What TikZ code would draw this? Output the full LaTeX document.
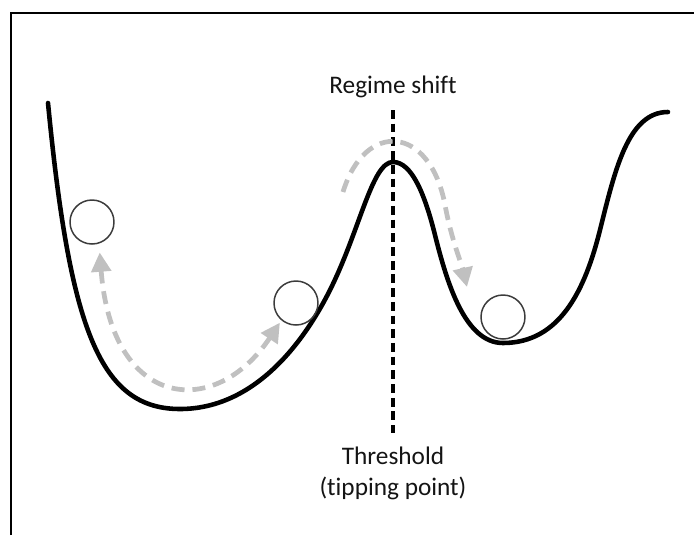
\documentclass[tikz,border=0pt]{standalone}
\usepackage{fontspec}
\setmainfont[Ligatures=NoCommon]{Carlito}
\usepackage{tikz}
\usetikzlibrary{arrows.meta}
\definecolor{flowgray}{RGB}{192,192,192}
\definecolor{ballgray}{RGB}{60,60,60}
\tikzset{
  landscape/.style  = {line width=2.6pt,black,line cap=round},
  ballcirc/.style   = {circle,draw=ballgray,line width=0.85pt,minimum size=0.88cm,inner sep=0pt},
  flowarr/.style    = {flowgray,line width=2.7pt,dash pattern=on 7.4pt off 4.5pt},
  threshline/.style = {line width=2pt,dash pattern=on 5pt off 2.8pt},
  caption/.style    = {font=\fontsize{14.4}{17.8}\selectfont,text=black!92,align=center},
  >={Triangle[length=11pt,width=11pt]}
}

\begin{document}
\begin{tikzpicture}[x=0.02cm,y=-0.02cm]
  \useasboundingbox (0,0) rectangle (694,535);
  \draw[line width=1.1pt] (11,535) -- (11,13) -- (694,13);
  % the landscape
  \draw[landscape] (48,103) .. controls (70,330) and (100,409) .. (180,409)
    .. controls (250,409) and (300,350) .. (330,290)
    .. controls (360,230) and (372,162) .. (393,162)
    .. controls (412,162) and (425,195) .. (435,235)
    .. controls (447,283) and (465,343) .. (503,343)
    .. controls (560,343) and (585,290) .. (600,230)
    .. controls (615,170) and (628,112) .. (668,112);
  % balls
  \node[ballcirc] (ballA) at (92,222) {};
  \node[ballcirc] (ballB) at (296,303) {};
  \node[ballcirc] (ballC) at (503,317) {};
  % threshold
  \node[caption,anchor=base,inner sep=7pt] (shift) at (393,93) {Regime shift};
  \node[caption,anchor=north,inner sep=7.5pt] (thresh) at (393,433) {Threshold\\(tipping point)};
  \draw[threshline] (shift) -- (thresh);
  % moves of the ball
  \coordinate (climb) at (343,192);
  \coordinate (drop)  at (467,287);
  \draw[flowarr,<->,shorten <=5pt,shorten >=1.5pt] (ballA.-72)
    .. controls (112,410) and (215,420) .. (ballB.230);
  \draw[flowarr,->] (climb) .. controls (365,120) and (430,125) .. (445,205)
    .. controls (452,242) and (462,265) .. (drop);
\end{tikzpicture}
\end{document}
